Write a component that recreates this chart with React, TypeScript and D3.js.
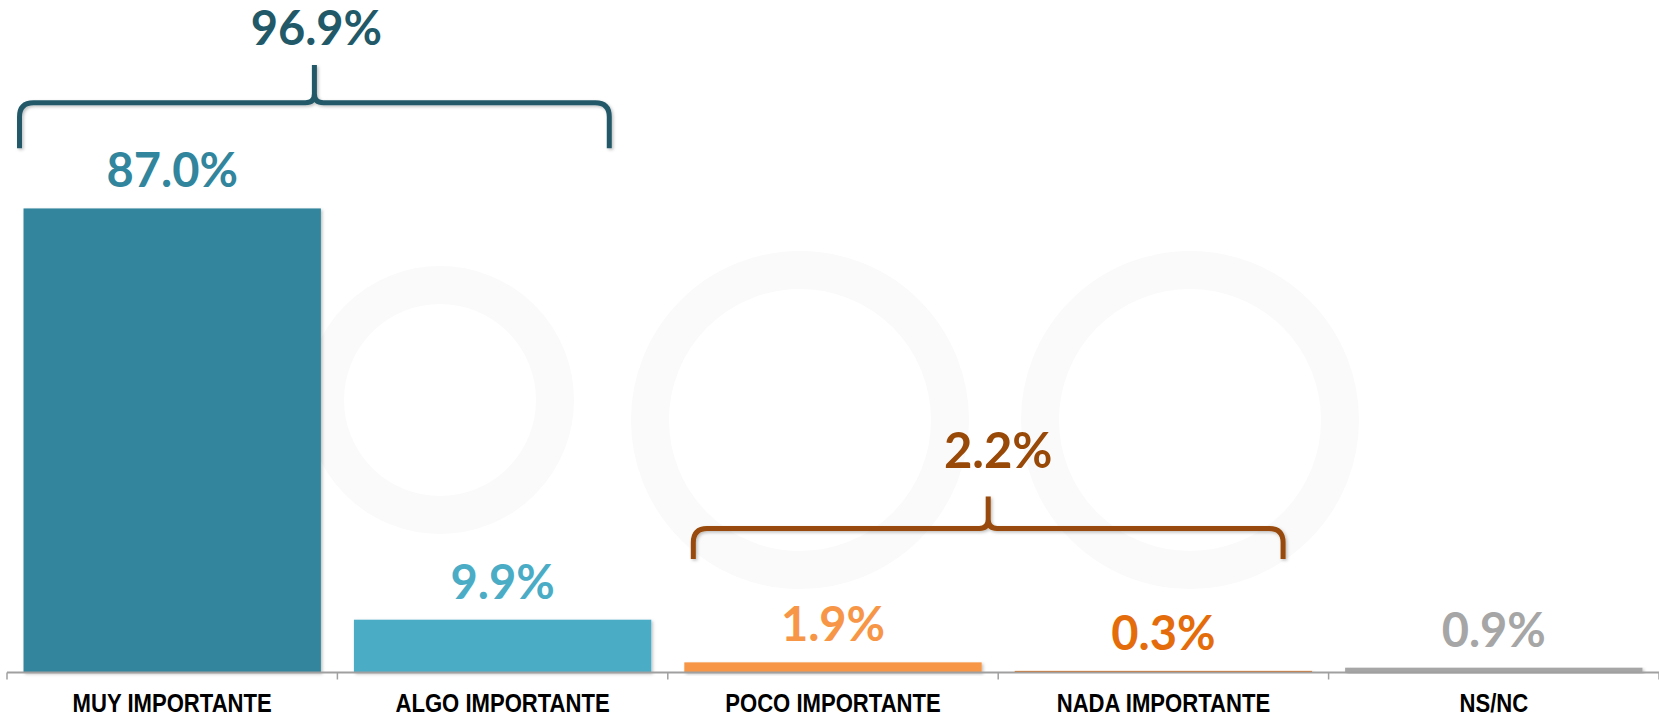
import React from "react";
import * as d3 from "d3";

const categories = ["MUY IMPORTANTE", "ALGO IMPORTANTE", "POCO IMPORTANTE", "NADA IMPORTANTE", "NS/NC"];
const values = [87.0, 9.9, 1.9, 0.3, 0.9];
const valueLabels = ["87.0%", "9.9%", "1.9%", "0.3%", "0.9%"];
const barColors = ["#31859C", "#4BACC6", "#F79646", "#E46C0A", "#A6A6A6"];

const groupFrom = [0, 2];
const groupTo = [1, 3];
const groupLabels = ["96.9%", "2.2%"];
const groupColors = ["#215968", "#984807"];
// brace levels (in percentage units of the y scale) : end of arms, horizontal line, tip
const groupArmEnd = [98.3, 21.3];
const groupLine = [106.8, 27.0];
const groupTip = [113.9, 33.0];
const groupLabelLevel = [117.7, 38.4];
const groupInsetLeft = [-4, 9];
const groupInsetRight = [-42, -29];
const groupLabelDx = [2, 10];

const W = 1659;
const H = 719;

export default function App() {
  const x = d3.scaleBand<string>().domain(categories).range([7, 1659]).paddingInner(0.1).paddingOuter(0.05);
  const y = d3.scaleLinear().domain([0, 100]).range([672.5, 139.1]);
  const step = x.step();
  const bw = x.bandwidth();
  const ticks = d3.range(categories.length + 1).map((i) => 7 + i * step);

  const bracePath = (x0: number, x1: number, yEnd: number, yLine: number, yTip: number) => {
    const xm = (x0 + x1) / 2;
    const r = 14;
    const c = 9;
    return [
      `M${x0},${yEnd}`,
      `L${x0},${yLine + r}`,
      `Q${x0},${yLine} ${x0 + r},${yLine}`,
      `L${xm - c},${yLine}`,
      `Q${xm},${yLine} ${xm},${yLine - c}`,
      `L${xm},${yTip}`,
      `M${xm},${yTip}`,
      `L${xm},${yLine - c}`,
      `Q${xm},${yLine} ${xm + c},${yLine}`,
      `L${x1 - r},${yLine}`,
      `Q${x1},${yLine} ${x1},${yLine + r}`,
      `L${x1},${yEnd}`,
    ].join(" ");
  };

  const valueFont = "Lato, 'Open Sans', sans-serif";
  const catFont = "'Liberation Sans', Arial, sans-serif";

  return (
    <svg width={W} height={H} style={{ position: "absolute", left: 0, top: 0, background: "#fff" }}>
      <defs>
        <filter id="sh" x="-10%" y="-10%" width="130%" height="140%">
          <feDropShadow dx="1.5" dy="1.5" stdDeviation="1.5" floodColor="#000" floodOpacity="0.25" />
        </filter>
      </defs>
      {/* faint watermark */}
      <g fill="none" stroke="#fafafa" strokeWidth={38}>
        <circle cx={440} cy={400} r={115} />
        <circle cx={800} cy={420} r={150} />
        <circle cx={1190} cy={420} r={150} />
      </g>

      {values.map((v, i) => (
        <rect
          key={categories[i]}
          x={x(categories[i])}
          y={y(v)}
          width={bw}
          height={y(0) - y(v)}
          fill={barColors[i]}
          filter="url(#sh)"
        />
      ))}

      <line x1={7} x2={1659} y1={y(0)} y2={y(0)} stroke="#A0A0A0" strokeWidth={2} />
      {ticks.map((t) => (
        <line key={t} x1={t} x2={t} y1={y(0)} y2={y(0) + 7} stroke="#A0A0A0" strokeWidth={1.5} />
      ))}

      {values.map((v, i) => (
        <text
          key={"v" + i}
          x={(x(categories[i]) as number) + bw / 2}
          y={y(v) - 21}
          textAnchor="middle"
          fill={barColors[i]}
          fontFamily={valueFont}
          fontWeight={700}
          fontSize={47}
        >
          {valueLabels[i]}
        </text>
      ))}

      {categories.map((c) => {
        const cx = (x(c) as number) + bw / 2;
        return (
          <text
            key={"c" + c}
            transform={`translate(${cx},712) scale(0.85,1)`}
            textAnchor="middle"
            fill="#000"
            fontFamily={catFont}
            fontWeight={700}
            fontSize={26}
          >
            {c}
          </text>
        );
      })}

      {groupLabels.map((g, i) => {
        const x0 = (x(categories[groupFrom[i]]) as number) + groupInsetLeft[i];
        const x1 = (x(categories[groupTo[i]]) as number) + bw + groupInsetRight[i];
        const xm = (x0 + x1) / 2;
        return (
          <g key={"g" + i}>
            <path
              d={bracePath(x0, x1, y(groupArmEnd[i]), y(groupLine[i]), y(groupTip[i]))}
              fill="none"
              stroke={groupColors[i]}
              strokeWidth={5}
              filter="url(#sh)"
            />
            <text
              x={xm + groupLabelDx[i]}
              y={y(groupLabelLevel[i])}
              textAnchor="middle"
              fill={groupColors[i]}
              fontFamily={valueFont}
              fontWeight={700}
              fontSize={i === 1 ? 49 : 47}
            >
              {g}
            </text>
          </g>
        );
      })}
    </svg>
  );
}
